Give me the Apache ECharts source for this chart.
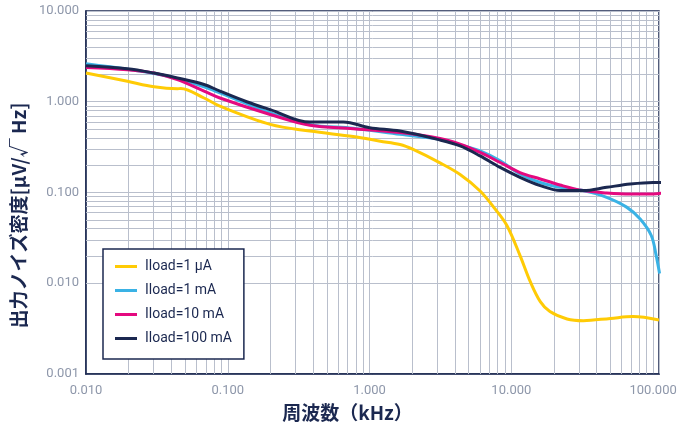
<!DOCTYPE html>
<html>
<head>
<meta charset="utf-8">
<script src="https://cdn.jsdelivr.net/npm/echarts@6/dist/echarts.min.js"></script>
<style>
html,body{margin:0;padding:0;background:#fff;}
#chart{width:688px;height:427px;}
</style>
</head>
<body>
<div id="chart"></div>
<script>
// ---- Data (frequency in kHz, noise density in µV/√Hz) ----
var seriesNames = ['Iload=1 μA', 'Iload=1 mA', 'Iload=10 mA', 'Iload=100 mA'];

var freq1uA = [0.01, 0.0196, 0.0302, 0.0441, 0.0465, 0.068, 0.088, 0.199, 0.38, 0.766, 1.19, 1.64, 2.03, 3.14, 4.35, 6.02, 7.67, 9.3, 11.5, 13.6, 16, 18.7, 24.7, 32.2, 50, 72, 110];
var val1uA  = [2.07, 1.68, 1.46, 1.39, 1.40, 1.10, 0.894, 0.564, 0.475, 0.413, 0.368, 0.338, 0.298, 0.212, 0.158, 0.104, 0.066, 0.0433, 0.0203, 0.0104, 0.00627, 0.00487, 0.00404, 0.00387, 0.0041, 0.00429, 0.00393];

var freq1mA = [0.01, 0.0196, 0.0302, 0.0441, 0.068, 0.088, 0.199, 0.38, 0.766, 1.64, 3.14, 4.35, 6.02, 8.34, 11.5, 16, 22, 32, 47, 65, 81, 97, 105, 111];
var val1mA  = [2.62, 2.28, 2.05, 1.8, 1.46, 1.25, 0.757, 0.56, 0.51, 0.437, 0.385, 0.335, 0.287, 0.223, 0.16, 0.129, 0.114, 0.105, 0.0885, 0.069, 0.051, 0.0336, 0.0203, 0.0128];

var freq10mA = [0.01, 0.0196, 0.0302, 0.0441, 0.068, 0.088, 0.199, 0.38, 0.766, 1.64, 3.14, 4.35, 6.02, 8.34, 11.5, 16, 22, 32, 47, 69, 100, 125];
var val10mA  = [2.38, 2.25, 2.07, 1.75, 1.31, 1.10, 0.724, 0.55, 0.505, 0.457, 0.393, 0.34, 0.276, 0.214, 0.166, 0.141, 0.121, 0.105, 0.099, 0.0964, 0.0964, 0.1];

var freq100mA = [0.01, 0.0196, 0.0302, 0.0441, 0.068, 0.088, 0.136, 0.199, 0.38, 0.653, 1.0, 1.64, 3.14, 4.35, 6.02, 8.34, 11.5, 16, 22.1, 32.2, 47, 68.9, 100, 125];
var val100mA  = [2.5, 2.31, 2.07, 1.83, 1.55, 1.31, 1.0, 0.82, 0.597, 0.597, 0.518, 0.475, 0.379, 0.326, 0.253, 0.189, 0.147, 0.119, 0.105, 0.105, 0.114, 0.124, 0.129, 0.129];

// Axis tick labels
var xTickLabels = ['0.010', '0.100', '1.000', '10.000', '100.000'];
var yTickLabels = ['0.001', '0.010', '0.100', '1.000', '10.000'];
var xDecades = [0.01, 0.1, 1, 10];
var yDecades = [0.001, 0.01, 0.1, 1];
var minorMultipliers = [2, 3, 4, 5, 6, 7, 8, 9];

var xTitle = '周波数（kHz）';
var yTitle = '出力ノイズ密度[μV/√ Hz]';

// ---- Build ----
function pairs(xs, ys) { return xs.map(function (x, i) { return [x, ys[i]]; }); }
var minorX = [], minorY = [];
xDecades.forEach(function (d) { minorMultipliers.forEach(function (m) { var v = d * m; if (v <= 110) minorX.push({ xAxis: v }); }); });
yDecades.forEach(function (d) { minorMultipliers.forEach(function (m) { minorY.push({ yAxis: d * m }); }); });

function fmt(list) {
  var map = {};
  list.forEach(function (s) { map[Math.round(Math.log(parseFloat(s)) / Math.LN10)] = s; });
  return function (v) {
    var l = Math.log(v) / Math.LN10;
    if (Math.abs(l - Math.round(l)) > 1e-6) return '';
    return map[Math.round(l)] || '';
  };
}

var navy = '#1b2850';
var gridColor = '#b9bfcc';
var colors = ['#ffcb05', '#3ab2e5', '#e4097f', navy];
var datas = [pairs(freq1uA, val1uA), pairs(freq1mA, val1mA), pairs(freq10mA, val10mA), pairs(freq100mA, val100mA)];

var series = [{
  type: 'line', name: '_grid', data: [[1, 1]], symbol: 'none', silent: true,
  lineStyle: { opacity: 0 }, z: 1,
  markLine: {
    silent: true, symbol: 'none', label: { show: false }, animation: false, z: 1,
    lineStyle: { color: gridColor, width: 1, type: 'solid' },
    data: minorX.concat(minorY)
  }
}];
seriesNames.forEach(function (n, i) {
  series.push({
    type: 'line', name: n, data: datas[i], symbol: 'none', showSymbol: false,
    smooth: 0.35, clip: false, z: 3 + i,
    lineStyle: { color: colors[i], width: 3 }, itemStyle: { color: colors[i] }
  });
});

var chart = echarts.init(document.getElementById('chart'), null, { renderer: 'canvas' });
chart.setOption({
  animation: false,
  backgroundColor: '#fff',
  color: colors,
  grid: { left: 86, right: 29, top: 11, bottom: 51, show: true, borderColor: navy, borderWidth: 1.5, backgroundColor: 'transparent' },
  legend: {
    data: seriesNames, orient: 'vertical', left: 103, top: 249,
    backgroundColor: '#fff', borderColor: navy, borderWidth: 1.5, borderRadius: 0,
    padding: [9, 12, 12, 12], itemGap: 7, itemWidth: 22, itemHeight: 3,
    icon: 'rect',
    textStyle: { color: navy, fontSize: 14, fontFamily: 'Roboto', padding: [0, 0, 0, 3], lineHeight: 17 }
  },
  xAxis: {
    type: 'log', logBase: 10, min: 0.01, max: 110,
    name: xTitle, nameLocation: 'middle', nameGap: 29,
    nameTextStyle: { color: navy, fontSize: 19, fontWeight: 'bold', fontFamily: 'Noto Sans CJK JP', padding: [0, 50, 0, 0] },
    axisLine: { show: true, lineStyle: { color: navy, width: 1.5 } },
    axisTick: { show: false },
    axisLabel: { color: '#8e97aa', fontSize: 13, fontFamily: 'Roboto', margin: 10, formatter: fmt(xTickLabels), showMaxLabel: true },
    splitLine: { show: true, lineStyle: { color: gridColor, width: 1 } }
  },
  yAxis: {
    type: 'log', logBase: 10, min: 0.001, max: 10,
    name: yTitle, nameLocation: 'middle', nameGap: 53,
    nameTextStyle: { color: navy, fontSize: 19, fontWeight: 'bold', fontFamily: 'Noto Sans CJK JP', padding: [0, 46, 0, 0] },
    axisLine: { show: true, lineStyle: { color: navy, width: 1.5 } },
    axisTick: { show: false },
    axisLabel: { color: '#8e97aa', fontSize: 13, fontFamily: 'Roboto', margin: 7, formatter: fmt(yTickLabels) },
    splitLine: { show: true, lineStyle: { color: gridColor, width: 1 } }
  },
  series: series
});
</script>
</body>
</html>
